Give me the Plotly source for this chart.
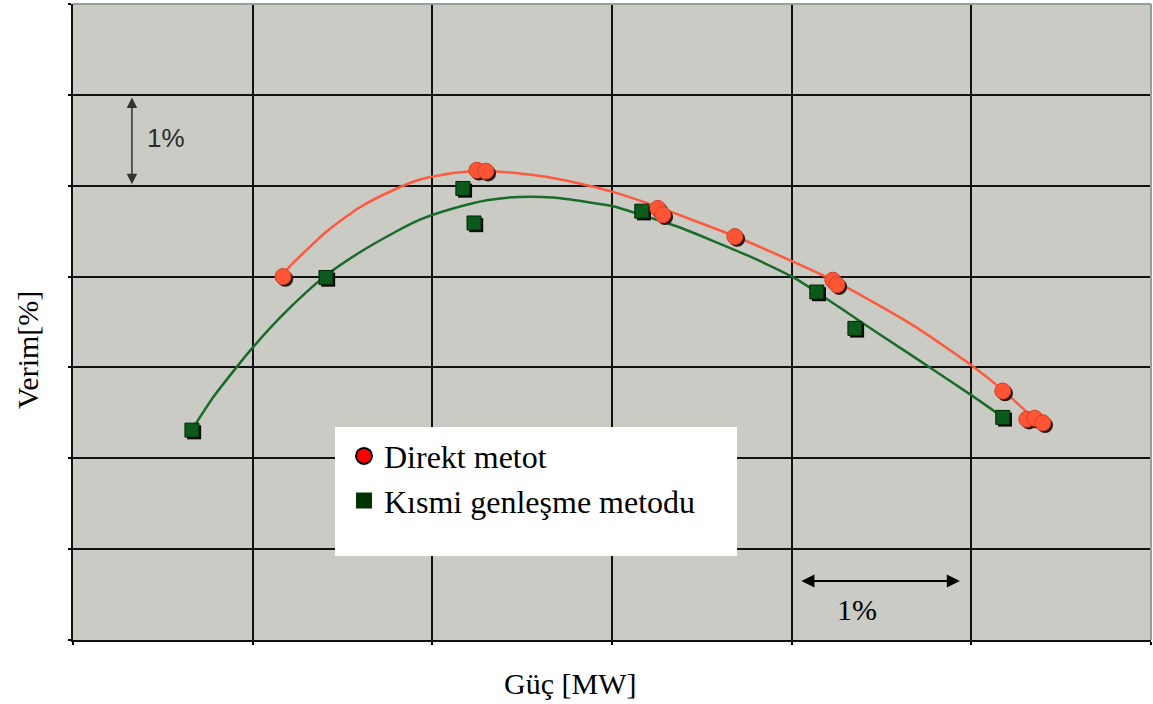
import plotly.graph_objects as go

# ---- data (grid units; axes have no numeric labels) ----
direct_x = [1.169, 2.248, 2.298, 3.255, 3.283, 3.684, 4.229, 4.252, 5.175, 5.309, 5.353, 5.398]
direct_y = [4.00, 5.17, 5.16, 4.75, 4.68, 4.44, 3.96, 3.91, 2.74, 2.43, 2.44, 2.39]

partial_x = [0.662, 1.408, 2.170, 2.232, 3.166, 4.140, 4.352, 5.175]
partial_y = [2.31, 3.99, 4.97, 4.59, 4.72, 3.83, 3.43, 2.45]

direct_fit_x = [1.169, 1.224, 1.413, 1.597, 1.781, 1.931, 2.115, 2.304, 2.487, 2.671,
                2.860, 3.005, 3.228, 3.378, 3.684, 4.007, 4.252, 4.674, 5.008, 5.175, 5.309]
direct_fit_y = [4.026, 4.147, 4.499, 4.763, 4.950, 5.068, 5.141, 5.163, 5.134, 5.086,
                5.006, 4.932, 4.786, 4.675, 4.444, 4.164, 3.938, 3.465, 3.014, 2.750, 2.508]

partial_fit_x = [0.661, 0.779, 0.913, 1.007, 1.152, 1.302, 1.402, 1.597, 1.781, 1.931,
                 2.115, 2.304, 2.487, 2.671, 2.860, 3.005, 3.228, 3.378, 3.751, 4.007,
                 4.140, 4.363, 4.674, 5.008, 5.175]
partial_fit_y = [2.310, 2.668, 3.009, 3.234, 3.548, 3.834, 4.004, 4.268, 4.477, 4.626,
                 4.749, 4.840, 4.877, 4.870, 4.822, 4.774, 4.639, 4.540, 4.235, 3.993,
                 3.828, 3.531, 3.124, 2.684, 2.453]

series_names = ["Direkt metot", "Kısmi genleşme metodu"]
x_title = "Güç [MW]"
y_title = "Verim[%]"
scale_label = "1%"

X_RANGE = [0, 6]
Y_RANGE = [0, 7]
# shadow offset (≈2 px) expressed in axis units
SDX = 2.2 / 179.7
SDY = 2.2 / 90.9

fig = go.Figure()

# fitted curves
fig.add_trace(go.Scatter(x=partial_fit_x, y=partial_fit_y, mode="lines",
                         line=dict(color="#1B6B2A", width=2.5, shape="spline", smoothing=0.6),
                         showlegend=False, hoverinfo="skip"))
fig.add_trace(go.Scatter(x=direct_fit_x, y=direct_fit_y, mode="lines",
                         line=dict(color="#FF5A3E", width=2.5, shape="spline", smoothing=0.6),
                         showlegend=False, hoverinfo="skip"))

# marker shadows
fig.add_trace(go.Scatter(x=[v + SDX for v in partial_x], y=[v - SDY for v in partial_y],
                         mode="markers", marker=dict(symbol="square", size=14, color="#050505"),
                         showlegend=False, hoverinfo="skip"))
fig.add_trace(go.Scatter(x=[v + SDX for v in direct_x], y=[v - SDY for v in direct_y],
                         mode="markers", marker=dict(symbol="circle", size=16, color="#2a1510"),
                         showlegend=False, hoverinfo="skip"))

# data markers
fig.add_trace(go.Scatter(x=partial_x, y=partial_y, mode="markers", name=series_names[1],
                         marker=dict(symbol="square", size=14, color="#0B5A1C",
                                     line=dict(color="#002800", width=1)),
                         showlegend=False))
fig.add_trace(go.Scatter(x=direct_x, y=direct_y, mode="markers", name=series_names[0],
                         marker=dict(symbol="circle", size=16, color="#FF5535",
                                     line=dict(color="#D04028", width=1)),
                         showlegend=False))

# legend entries
fig.add_trace(go.Scatter(x=[None], y=[None], mode="markers", name=series_names[0],
                         marker=dict(symbol="circle", size=16, color="#FF0000",
                                     line=dict(color="#000000", width=2))))
fig.add_trace(go.Scatter(x=[None], y=[None], mode="markers", name=series_names[1],
                         marker=dict(symbol="square", size=16, color="#003300",
                                     line=dict(color="#003300", width=0))))

axis_common = dict(showticklabels=False, ticks="outside", ticklen=3, tickcolor="#000",
                   tickwidth=1.5, showgrid=True, gridcolor="#111111", gridwidth=2,
                   zeroline=False, showline=True, linecolor="#111111", linewidth=2,
                   dtick=1, tick0=0, fixedrange=True)

fig.update_layout(
    width=1153, height=704,
    margin=dict(l=73, r=2, t=4, b=64),
    paper_bgcolor="white",
    plot_bgcolor="#C9CBC4",
    font=dict(family="Liberation Serif", color="#000"),
    xaxis=dict(range=X_RANGE, **axis_common),
    yaxis=dict(range=Y_RANGE, **axis_common),
    legend=dict(x=0.2514, y=0.3324, xanchor="left", yanchor="top",
                bgcolor="rgba(0,0,0,0)", font=dict(size=32, family="Liberation Serif"),
                itemwidth=30, tracegroupgap=0),
    shapes=[
        # legend box
        dict(type="rect", xref="paper", yref="paper",
             x0=(335 - 73) / 1078, x1=(737 - 73) / 1078,
             y0=(640 - 556) / 636, y1=(640 - 427) / 636,
             fillcolor="white", line=dict(width=0), layer="above"),
        # top & right border (greyish)
        dict(type="line", xref="paper", yref="paper", x0=0, x1=1, y0=1, y1=1,
             line=dict(color="#93A19B", width=2), layer="above"),
        dict(type="line", xref="paper", yref="paper", x0=1, x1=1, y0=0, y1=1,
             line=dict(color="#93A19B", width=2), layer="above"),
    ],
    annotations=[
        # axis titles
        dict(x=(570 - 73) / 1078, y=(640 - 683) / 636, xref="paper", yref="paper",
             text=x_title, showarrow=False, xanchor="center", yanchor="middle",
             font=dict(family="Liberation Serif", size=30, color="#000")),
        dict(x=(27 - 73) / 1078, y=(640 - 350) / 636, xref="paper", yref="paper",
             text=y_title, showarrow=False, textangle=-90, xanchor="center", yanchor="middle",
             font=dict(family="Liberation Serif", size=30, color="#000")),
        # vertical 1% scale arrow
        dict(x=0.328, y=5.97, ax=0.328, ay=5.0, xref="x", yref="y", axref="x", ayref="y",
             text="", showarrow=True, arrowhead=2, arrowside="end+start",
             arrowsize=1.4, arrowwidth=1.5, arrowcolor="#333333"),
        dict(x=0.518, y=5.52, xref="x", yref="y", text=scale_label, showarrow=False,
             font=dict(family="Liberation Sans", size=26, color="#2b2b2b")),
        # horizontal 1% scale arrow
        dict(x=4.936, y=0.65, ax=4.046, ay=0.65, xref="x", yref="y", axref="x", ayref="y",
             text="", showarrow=True, arrowhead=2, arrowside="end+start",
             arrowsize=1.3, arrowwidth=2, arrowcolor="#000000"),
        dict(x=4.363, y=0.34, xref="x", yref="y", text=scale_label, showarrow=False,
             font=dict(family="Liberation Serif", size=30, color="#000")),
    ],
)

fig.write_html("out.html", config={"displayModeBar": False},
               post_script="document.body.style.margin='0';document.body.style.overflow='hidden';")
